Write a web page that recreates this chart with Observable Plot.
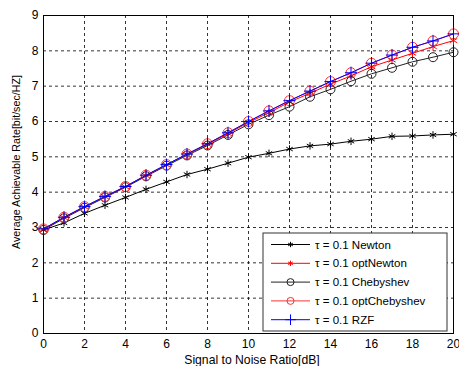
<!DOCTYPE html>
<html><head><meta charset="utf-8">
<script src="https://cdn.jsdelivr.net/npm/d3@7"></script>
<script src="https://cdn.jsdelivr.net/npm/@observablehq/plot@0.6"></script>
<style>body{margin:0;background:#fff}</style>
</head><body><div id="chart"></div>
<script>
const snr = [0,1,2,3,4,5,6,7,8,9,10,11,12,13,14,15,16,17,18,19,20];
const newton      = [2.93,3.13,3.40,3.63,3.85,4.08,4.29,4.50,4.65,4.82,4.99,5.10,5.22,5.31,5.36,5.44,5.50,5.58,5.59,5.62,5.64];
const optNewton   = [2.95,3.28,3.58,3.87,4.15,4.47,4.77,5.07,5.35,5.66,5.97,6.25,6.55,6.80,7.06,7.29,7.55,7.74,7.93,8.12,8.29];
const chebyshev   = [2.93,3.26,3.56,3.85,4.14,4.45,4.75,5.04,5.32,5.62,5.92,6.18,6.42,6.70,6.91,7.14,7.35,7.52,7.69,7.82,7.96];
const optChebyshev= [2.96,3.29,3.59,3.88,4.16,4.48,4.78,5.08,5.37,5.68,6.00,6.30,6.59,6.86,7.13,7.38,7.65,7.88,8.10,8.28,8.48];
const rzf         = [2.96,3.29,3.59,3.88,4.16,4.48,4.78,5.08,5.37,5.68,6.00,6.30,6.59,6.86,7.13,7.38,7.65,7.88,8.10,8.28,8.48];
const xTicks = [0,2,4,6,8,10,12,14,16,18,20];
const yTicks = [0,1,2,3,4,5,6,7,8,9];
const seriesNames = ["τ = 0.1 Newton","τ = 0.1 optNewton","τ = 0.1 Chebyshev","τ = 0.1 optChebyshev","τ = 0.1 RZF"];
const xLabel = "Signal to Noise Ratio[dB]";
const yLabel = "Average Achievable Rate[bit/sec/HZ]";

const styles = [
  {values: newton, stroke: "#000", symbol: "asterisk", r: 3.5, lr: 2.5},
  {values: optNewton, stroke: "#ff0000", symbol: "asterisk", r: 4, lr: 2.5},
  {values: chebyshev, stroke: "#222", symbol: "circle", r: 4.5, lr: 3.5},
  {values: optChebyshev, stroke: "#ff3030", symbol: "circle", r: 5, lr: 3.5},
  {values: rzf, stroke: "#0000ff", symbol: "plus", r: 4, lr: 3.5}
];
const rows = styles.map((s, i) => snr.map((x, j) => ({x, y: s.values[j], i})));

const marks = [
  Plot.gridX(xTicks, {stroke: "#000", strokeOpacity: 1, strokeDasharray: "3,3", strokeWidth: 0.8}),
  Plot.gridY(yTicks, {stroke: "#000", strokeOpacity: 1, strokeDasharray: "3,3", strokeWidth: 0.8}),
  Plot.frame({stroke: "#000", strokeWidth: 1}),
  Plot.axisX(xTicks, {tickSize: 0, tickPadding: 6, label: null, fontSize: 12}),
  Plot.axisY(yTicks, {tickSize: 0, tickPadding: 5, label: null, fontSize: 12})
];
styles.forEach((s, i) => {
  marks.push(Plot.line(rows[i], {x: "x", y: "y", stroke: s.stroke, strokeWidth: 1}));
  marks.push(Plot.dot(rows[i], {x: "x", y: "y", stroke: s.stroke, symbol: s.symbol, r: s.r, strokeWidth: 1, fill: "none"}));
});

const plot = Plot.plot({
  width: 459, height: 366,
  marginLeft: 43, marginRight: 6, marginTop: 15, marginBottom: 33,
  style: {fontFamily: "'Liberation Sans', Arial, sans-serif", fontSize: "12px", background: "#fff", color: "#000"},
  x: {domain: [0, 20]},
  y: {domain: [0, 9]},
  marks
});
document.getElementById("chart").appendChild(plot);

const svg = d3.select(plot);
const sx = plot.scale("x"), sy = plot.scale("y");
// Axis titles
svg.append("text").attr("x", (sx.apply(0) + sx.apply(20)) / 2 + 4).attr("y", sy.apply(0) + 30.5)
  .attr("text-anchor", "middle").attr("font-size", 12.2).attr("fill", "#000").text(xLabel);
svg.append("text").attr("transform", `translate(16,${(sy.apply(0) + sy.apply(9)) / 2 - 12}) rotate(-90)`)
  .attr("dy", "0.36em").attr("text-anchor", "middle").attr("font-size", 10.7).attr("fill", "#000").text(yLabel);

// Legend (inside plot, bottom-right)
const right = sx.apply(20) - 6, bottom = sy.apply(0) - 2;
const boxW = 184, boxH = 98;
const g = svg.append("g").attr("transform", `translate(${right - boxW},${bottom - boxH})`);
g.append("rect").attr("width", boxW).attr("height", boxH).attr("fill", "#fff").attr("stroke", "#333").attr("stroke-width", 1);
const symGen = {asterisk: d3.symbolAsterisk, circle: d3.symbolCircle, plus: d3.symbolPlus};
styles.forEach((s, i) => {
  const y = 11.5 + i * 18.8;
  const row = g.append("g").attr("transform", `translate(0,${y})`);
  row.append("line").attr("x1", 8).attr("x2", 47).attr("y1", 0).attr("y2", 0).attr("stroke", s.stroke).attr("stroke-width", 1);
  row.append("path").attr("transform", "translate(27.5,0)")
    .attr("d", d3.symbol(symGen[s.symbol], Math.PI * s.lr * s.lr)())
    .attr("fill", "none").attr("stroke", s.stroke).attr("stroke-width", 1);
  row.append("text").attr("x", 52).attr("y", 0).attr("dy", "0.36em")
    .attr("text-anchor", "start")
    .attr("font-size", 11.5).attr("fill", "#000").text(seriesNames[i]);
});
</script>
</body></html>
